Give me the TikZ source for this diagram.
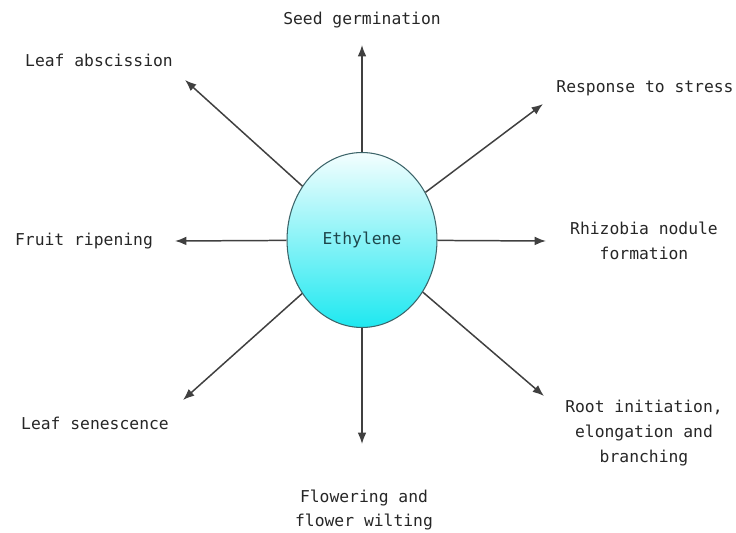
\documentclass[tikz,border=0pt]{standalone}
\usepackage{fontspec}
\setmonofont{DejaVu Sans Mono}
\usetikzlibrary{arrows.meta,shapes.geometric}
\definecolor{ethcyan}{RGB}{30,232,240}
\definecolor{ethedge}{RGB}{60,100,105}
\definecolor{ethtext}{RGB}{30,70,75}
\tikzset{
	effect/.style = {font=\ttfamily\fontsize{9.3}{14.2}\selectfont, text=black!85, align=center},
	link/.style = {-{Latex[length=6.5pt,width=5pt]}, draw=black!75, line width=0.85pt}
}
\begin{document}
\begin{tikzpicture}[x = 0.02cm, y = -0.02cm]
	\useasboundingbox (0,0) rectangle (736,533);
	\node[ellipse, draw=ethedge, line width=0.6pt, top color=ethcyan!5, bottom color=ethcyan,
		minimum width=3cm, minimum height=3.5cm, inner sep=0pt,
		font=\ttfamily\fontsize{9.3}{12}\selectfont, text=ethtext] (eth) at (362,240) {Ethylene};
	% effects
	\node[effect] (seed) at (362,20) {Seed germination};
	\node[effect] (absc) at (99,60) {Leaf abscission};
	\node[effect] (stress) at (645,88) {Response to stress};
	\node[effect] (fruit) at (84,241) {Fruit ripening};
	\node[effect] (rhizo) at (644,241) {Rhizobia nodule\\formation};
	\node[effect] (senes) at (95,423) {Leaf senescence};
	\node[effect] (flower) at (364,510) {Flowering and\\flower wilting};
	\node[effect] (root) at (644,433) {Root initiation,\\elongation and\\branching};
	% arrow tips
	\coordinate (tseed) at (362,45);
	\coordinate (tabsc) at (185,80);
	\coordinate (tstress) at (543,104);
	\coordinate (tfruit) at (175,241);
	\coordinate (trhizo) at (546,241);
	\coordinate (tsenes) at (183,400);
	\coordinate (tflower) at (362,444);
	\coordinate (troot) at (544,396);
	\foreach \t in {tseed,tabsc,tstress,tfruit,trhizo,tsenes,tflower,troot}
		\draw[link] (eth) -- (\t);
\end{tikzpicture}
\end{document}
